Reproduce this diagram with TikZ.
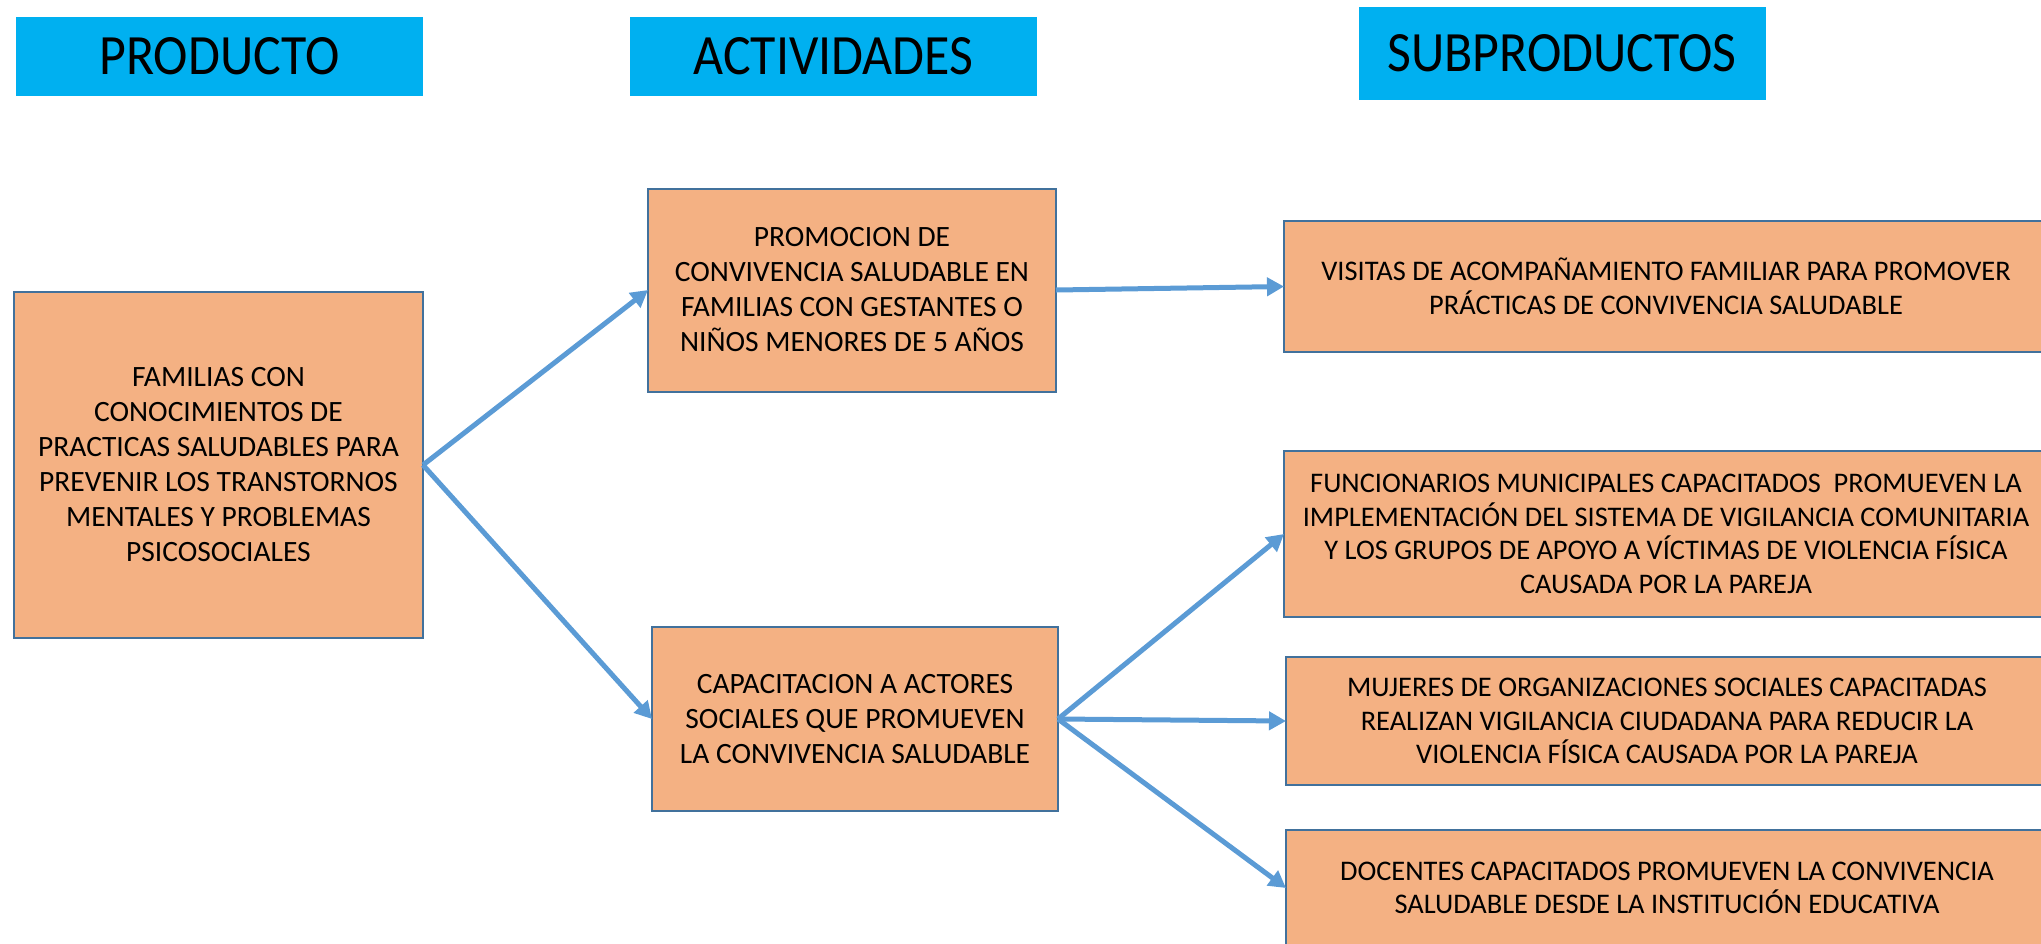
\documentclass[tikz,border=0pt]{standalone}
\usepackage{fontspec}
\setmainfont{Carlito}
\newfontfamily\headfont{Carlito}[FakeStretch=0.91]
\usetikzlibrary{arrows.meta}
\definecolor{headfill}{HTML}{00B0F0}
\definecolor{boxfill}{HTML}{F4B183}
\definecolor{boxline}{HTML}{41719C}
\definecolor{arrowblue}{HTML}{5B9BD5}

\begin{document}
\begin{tikzpicture}[x=1pt,y=-1pt,
 head/.style={fill=headfill,inner sep=0pt,outer sep=0pt,font=\headfont\fontsize{57}{60}\selectfont},
 card/.style={fill=boxfill,draw=boxline,line width=2pt,inner sep=0pt,outer sep=0pt,align=center,font=\fontsize{29.5}{35}\selectfont},
 widecard/.style={card,font=\fontsize{28.4}{33.5}\selectfont},
 link/.style={arrowblue,line width=5pt,-{Triangle[length=17pt,width=18pt]}}]
 \useasboundingbox(0,0)rectangle(2041,943);
 \clip(0,0)rectangle(2041,943);
 % column titles
 \node[head,minimum width=407pt,minimum height=79pt](hprod)at(219.5,56.5){PRODUCTO};
 \node[head,minimum width=407pt,minimum height=79pt](hact)at(833.5,56.5){ACTIVIDADES};
 \node[head,minimum width=407pt,minimum height=93pt](hsub)at(1562,53){SUBPRODUCTOS};
 % product
 \node[card,minimum width=409pt,minimum height=346pt](familias)at(218.5,465){FAMILIAS CON\\CONOCIMIENTOS DE\\PRACTICAS SALUDABLES PARA\\PREVENIR LOS TRANSTORNOS\\MENTALES Y PROBLEMAS\\PSICOSOCIALES};
 % activities
 \node[card,minimum width=408pt,minimum height=203pt](promocion)at(852,290){PROMOCION DE\\CONVIVENCIA SALUDABLE EN\\FAMILIAS CON GESTANTES O\\NIÑOS MENORES DE 5 AÑOS};
 \node[card,minimum width=406pt,minimum height=184pt](capacitacion)at(855,719){CAPACITACION A ACTORES\\SOCIALES QUE PROMUEVEN\\LA CONVIVENCIA SALUDABLE};
 % subproducts
 \node[widecard,minimum width=764pt,minimum height=131pt](visitas)at(1666,286.5){VISITAS DE ACOMPAÑAMIENTO FAMILIAR PARA PROMOVER\\PRÁCTICAS DE CONVIVENCIA SALUDABLE};
 \node[widecard,minimum width=764pt,minimum height=166pt](funcionarios)at(1666,534){FUNCIONARIOS MUNICIPALES CAPACITADOS\ \ PROMUEVEN LA\\IMPLEMENTACIÓN DEL SISTEMA DE VIGILANCIA COMUNITARIA\\Y LOS GRUPOS DE APOYO A VÍCTIMAS DE VIOLENCIA FÍSICA\\CAUSADA POR LA PAREJA};
 \node[widecard,minimum width=762pt,minimum height=128pt](mujeres)at(1667,721){MUJERES DE ORGANIZACIONES SOCIALES CAPACITADAS\\REALIZAN VIGILANCIA CIUDADANA PARA REDUCIR LA\\VIOLENCIA FÍSICA CAUSADA POR LA PAREJA};
 \node[widecard,minimum width=762pt,minimum height=116pt](docentes)at(1667,888){DOCENTES CAPACITADOS PROMUEVEN LA CONVIVENCIA\\SALUDABLE DESDE LA INSTITUCIÓN EDUCATIVA};
 % arrows
 \draw[link](familias.east)--(promocion.west);
 \draw[link](familias.east)--(capacitacion.west);
 \draw[link](promocion.east)--(visitas.west);
 \draw[link](capacitacion.east)--(funcionarios.west);
 \draw[link](capacitacion.east)--(mujeres.west);
 \draw[link](capacitacion.east)--(docentes.west);
\end{tikzpicture}
\end{document}
